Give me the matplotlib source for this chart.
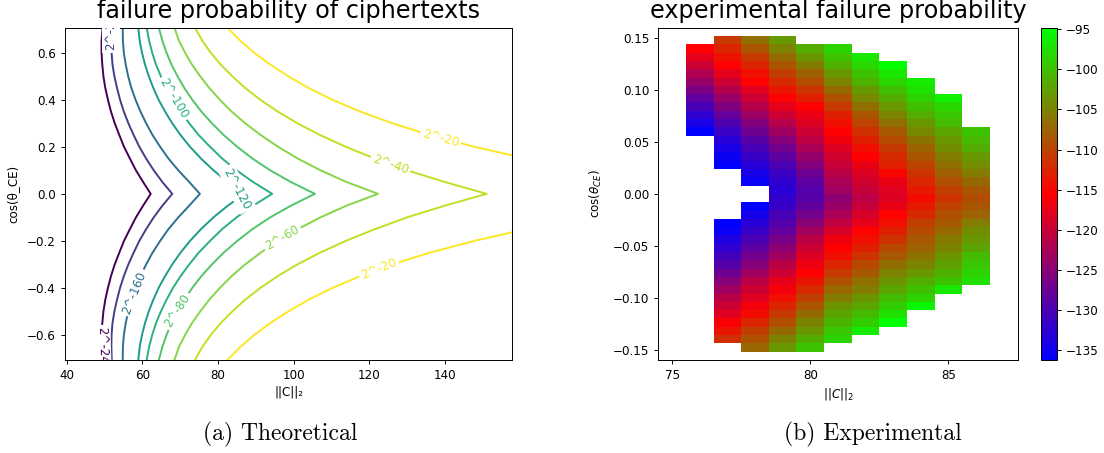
import matplotlib

matplotlib.use("Agg")

import matplotlib.pyplot as plt
import numpy as np
from matplotlib.colors import Normalize
from matplotlib.ticker import MultipleLocator


OUTPUT_PATH = "out.png"

# Theoretical plot: ||C||_2 where each contour crosses a given |cos(theta_CE)|.
# The curves are mirror images around cos = 0, so only the upper half is stored.
COS_SAMPLES = [0.0, 0.05, 0.1, 0.15, 0.2, 0.25, 0.3, 0.35, 0.4, 0.45, 0.5,
               0.55, 0.6, 0.65, 0.71]
LEVEL_EXPONENTS = [-240, -200, -160, -120, -100, -80, -60, -40, -20]
NORM_2_240 = [62.2, 60.2, 58.3, 56.7, 55.15, 53.9, 52.7, 51.7, 50.9, 50.2,
              49.7, 49.4, 49.2, 49.2, 49.5]
NORM_2_200 = [67.9, 65.3, 63.0, 61.0, 59.2, 57.7, 56.3, 55.1, 54.1, 53.3,
              52.6, 52.1, 51.85, 51.8, 51.9]
NORM_2_160 = [75.2, 72.4, 69.5, 66.9, 64.7, 62.7, 61.0, 59.5, 58.2, 57.1,
              56.25, 55.6, 55.1, 54.85, 54.8]
NORM_2_120 = [87.0, 82.6, 78.8, 75.5, 72.6, 70.1, 67.9, 66.0, 64.3, 62.9,
              61.7, 60.7, 59.9, 59.3, 58.9]
NORM_2_100 = [94.3, 89.3, 84.9, 81.1, 77.9, 74.9, 72.4, 70.1, 68.1, 66.4,
              64.9, 63.6, 62.6, 61.8, 61.1]
NORM_2_80 = [105.6, 99.3, 93.8, 89.1, 85.1, 81.5, 78.4, 75.6, 73.2, 71.1,
             69.3, 67.7, 66.4, 65.3, 64.3]
NORM_2_60 = [122.3, 114.0, 107.1, 101.1, 95.9, 91.3, 87.2, 83.6, 80.5, 77.7,
             75.3, 73.1, 71.3, 69.7, 68.4]
NORM_2_40 = [151.0, 140.0, 130.0, 121.5, 113.8, 107.0, 101.0, 95.8, 91.2,
             87.2, 83.8, 80.7, 78.1, 75.9, 73.8]
NORM_2_20 = [228.7, 199.8, 178.5, 161.5, 147.8, 136.0, 126.1, 117.6, 110.3,
             104.0, 98.6, 93.8, 89.6, 86.0, 82.3]
CONTOUR_NORMS = [
    NORM_2_240, NORM_2_200, NORM_2_160, NORM_2_120, NORM_2_100,
    NORM_2_80, NORM_2_60, NORM_2_40, NORM_2_20,
]

# Inline contour labels (level, position, rotation).
LABEL_LEVELS = [-20, -20, -40, -60, -80, -100, -120, -160, -200, -240]
LABEL_NORMS = [138.8, 122.5, 125.6, 97.0, 69.3, 68.3, 85.0, 57.9, 51.7, 49.35]
LABEL_COS = [0.236, -0.32, 0.126, -0.188, -0.498, 0.405, 0.022, -0.42, 0.705, -0.663]
LABEL_ROTATIONS = [-15, 22, -19, 30, 57, -59, -62, 68, 90, -88]

# Experimental plot: log2 failure probability per (||C||_2, cos) bin.
NORM_BINS = [75, 76, 77, 78, 79, 80, 81, 82, 83, 84, 85, 86, 87]
COS_TOP = 0.16
COS_STEP = 0.008
COS_ROWS = 40
COLUMN_NORMS = [76, 77, 78, 79, 80, 81, 82, 83, 84, 85, 86]
COLUMN_START_ROW = [2, 1, 1, 1, 2, 2, 3, 4, 6, 8, 12]

COL_76 = [-115.5, -117.6, -119.7, -121.9, -124.0, -126.1, -128.4, -130.4,
          -132.5, -134.2, -136.25]
COL_77 = [-110.9, -112.6, -114.1, -115.5, -117.6, -119.7, -121.7, -123.8,
          -125.9, -128.0, -129.8, -131.5, -132.9, -134.2, -135.2, -136.25,
          None, None, None, None, None, None,
          -136.25, -135.4, -133.8, -132.5, -130.9, -129.4, -127.3, -125.3,
          -123.2, -121.1, -119.7, -118.0, -115.9, -113.9, -111.8]
COL_78 = [-106.6, -108.7, -110.9, -112.6, -114.3, -115.5, -118.0, -119.7,
          -121.5, -123.6, -125.7, -127.3, -129.0, -130.4, -131.7, -132.9,
          -134.2, -135.4,
          None, None,
          -136.25, -134.6, -132.9, -131.7, -130.0, -128.6, -126.9, -125.3,
          -123.2, -121.1, -119.7, -118.0, -116.4, -114.7, -112.6, -110.5,
          -108.9, -107.2]
COL_79 = [-103.1, -104.95, -106.8, -108.7, -110.5, -112.2, -113.9, -115.5,
          -117.6, -119.7, -121.5, -123.4, -125.3, -126.9, -128.6, -130.0,
          -131.3, -132.3, -132.9,
          -132.1, -131.7, -130.4, -129.4, -128.2, -126.5, -124.8, -123.2,
          -121.1, -119.7, -117.6, -116.4, -114.3, -112.6, -110.9, -109.1,
          -107.0, -104.95, -103.3]
COL_80 = [-101.6, -103.3, -105.4, -107.7, -109.3, -111.4, -113.0, -115.5,
          -117.2, -118.4, -119.7, -120.9, -122.4, -124.0, -125.7, -127.3,
          -128.6, -129.4,
          -129.2, -128.2, -126.9, -125.0, -123.0, -121.1, -119.7, -118.4,
          -116.9, -115.5, -113.9, -112.2, -110.5, -108.7, -106.8, -104.95,
          -103.3, -101.6, -99.8]
COL_81 = [-98.5, -99.8, -101.2, -103.3, -104.95, -107.0, -109.1, -110.9,
          -113.0, -114.3, -115.5, -116.8, -118.0, -119.3, -120.1, -121.1,
          -122.4, -123.2,
          -124.6, -123.8, -122.4, -120.7, -118.8, -116.8, -115.5, -114.3,
          -112.6, -110.9, -109.1, -107.2, -105.4, -103.7, -102.1, -100.8,
          -99.4, -98.5]
COL_82 = [-96.9, -98.1, -99.8, -101.2, -103.1, -104.5, -106.6, -108.7,
          -110.1, -111.8, -113.0, -114.3, -115.5, -117.2, -118.4, -119.3,
          -120.1,
          -120.9, -120.1, -118.8, -117.6, -115.5, -114.3, -113.0, -111.4,
          -109.7, -108.3, -106.6, -105.4, -103.7, -102.1, -100.4, -98.9,
          -96.5]
COL_83 = [-94.8, -96.9, -98.3, -100.0, -101.6, -103.3, -104.95, -106.6,
          -108.3, -109.5, -110.9, -112.2, -113.0, -115.1, -117.2, -118.0,
          -118.4, -117.2, -115.5, -114.3, -113.0, -111.4, -109.7, -108.3,
          -106.6, -104.95, -103.7, -102.1, -100.4, -98.9, -97.3, -94.8]
COL_84 = [-96.5, -97.3, -98.5, -100.0, -101.6, -103.3, -104.5, -106.2,
          -107.5, -108.7, -110.1, -111.4, -112.6, -113.5,
          -114.7, -113.5, -112.2, -110.5, -109.5, -108.3, -107.5, -106.2,
          -104.95, -103.3, -101.6, -100.0, -98.5, -95.6]
COL_85 = [-96.0, -98.1, -99.4, -100.4, -102.1, -103.3, -104.1, -105.4,
          -106.6, -107.9, -109.1, -110.5,
          -111.4, -110.3, -109.1, -108.3, -107.0, -105.8, -104.95, -103.7,
          -102.5, -101.2, -99.8, -96.9]
COL_86 = [-99.8, -100.6, -101.6, -103.3, -104.1, -105.4, -107.0, -108.7,
          -109.3, -108.7, -107.5, -105.4, -104.1, -103.3, -102.1, -100.4,
          -99.4, -98.5, -97.7]
COLUMN_VALUES = [COL_76, COL_77, COL_78, COL_79, COL_80, COL_81, COL_82,
                 COL_83, COL_84, COL_85, COL_86]
CBAR_TICKS = [-135, -130, -125, -120, -115, -110, -105, -100, -95]

FONT_SIZE = 8.6
TITLE_SIZE = 17.2


def style_axis(axis):
    """Common tick and spine settings for both panels."""
    axis.tick_params(labelsize=FONT_SIZE, length=3, width=0.7)
    for spine in axis.spines.values():
        spine.set_linewidth(0.7)


def draw_theoretical(axis):
    """Contour lines of the theoretical failure probability."""
    cmap = plt.get_cmap("viridis")
    norm = Normalize(min(LEVEL_EXPONENTS), max(LEVEL_EXPONENTS))
    cos_values = np.array(COS_SAMPLES)
    y_values = np.concatenate([-cos_values[::-1], cos_values[1:]])

    for exponent, norms in zip(LEVEL_EXPONENTS, CONTOUR_NORMS):
        norms = np.array(norms)
        x_values = np.concatenate([norms[::-1], norms[1:]])
        axis.plot(x_values, y_values, color=cmap(norm(exponent)),
                  linewidth=1.4)

    for level, x, y, rotation in zip(LABEL_LEVELS, LABEL_NORMS, LABEL_COS,
                                     LABEL_ROTATIONS):
        axis.text(
            x, y, f"2^{level}",
            color=cmap(norm(level)),
            fontsize=FONT_SIZE,
            rotation=rotation,
            rotation_mode="anchor",
            ha="center",
            va="center",
            clip_on=True,
            bbox=dict(boxstyle="square,pad=0.2", facecolor="white",
                      edgecolor="none"),
        )

    axis.set_xlim(39.55, 157.8)
    axis.set_ylim(-0.7071, 0.7071)
    axis.xaxis.set_major_locator(MultipleLocator(20))
    axis.yaxis.set_major_locator(MultipleLocator(0.2))
    axis.set_title("failure probability of ciphertexts", fontsize=TITLE_SIZE,
                   pad=6.8)
    axis.set_xlabel("||C||\u2082", fontsize=FONT_SIZE)
    axis.set_ylabel("cos(\u03b8_CE)", fontsize=FONT_SIZE)
    axis.xaxis.set_label_coords(0.5, -0.078)
    axis.yaxis.set_label_coords(-0.103, 0.5)
    style_axis(axis)


def build_grid():
    """Puts the measured columns into the full (cos, norm) grid."""
    grid = np.full((COS_ROWS, len(NORM_BINS)), np.nan)
    for norm_value, start, values in zip(COLUMN_NORMS, COLUMN_START_ROW,
                                         COLUMN_VALUES):
        column = NORM_BINS.index(norm_value)
        cells = [np.nan if value is None else value for value in values]
        grid[start:start + len(cells), column] = cells
    return np.ma.masked_invalid(grid)


def draw_experimental(fig, axis, cbar_axis):
    """Binned experimental failure probability with colorbar."""
    norm_edges = np.append(np.array(NORM_BINS) - 0.5, NORM_BINS[-1] + 0.5)
    cos_edges = COS_TOP - COS_STEP * np.arange(COS_ROWS + 1)

    mesh = axis.pcolormesh(norm_edges, cos_edges, build_grid(), cmap="brg",
                           shading="flat")
    axis.set_xlim(norm_edges[0], norm_edges[-1])
    axis.set_ylim(-COS_TOP, COS_TOP)
    axis.xaxis.set_major_locator(MultipleLocator(5))
    axis.yaxis.set_major_locator(MultipleLocator(0.05))
    axis.set_title("experimental failure probability", fontsize=TITLE_SIZE,
                   pad=6.8)
    axis.set_xlabel(r"$||C||_2$", fontsize=FONT_SIZE)
    axis.set_ylabel(r"$\cos(\theta_{CE})$", fontsize=FONT_SIZE)
    axis.xaxis.set_label_coords(0.5, -0.078)
    axis.yaxis.set_label_coords(-0.151, 0.5)
    style_axis(axis)

    cbar = fig.colorbar(mesh, cax=cbar_axis)
    cbar.set_ticks(CBAR_TICKS)
    cbar.ax.tick_params(labelsize=FONT_SIZE, length=3, width=0.7)
    cbar.outline.set_linewidth(0.7)


def main():
    fig = plt.figure(figsize=(11.04, 4.53), dpi=100)

    left_axis = fig.add_axes([0.0589, 0.2053, 0.4052, 0.7336])
    right_axis = fig.add_axes([0.5963, 0.2053, 0.3254, 0.7336])
    cbar_axis = fig.add_axes([0.9425, 0.2053, 0.0149, 0.7336])

    draw_theoretical(left_axis)
    draw_experimental(fig, right_axis, cbar_axis)

    # Sub-figure captions, as in the paper.
    fig.text(0.2536, 0.0287, "(a) Theoretical", family="cmr10", fontsize=17,
             ha="center", va="baseline")
    fig.text(0.7908, 0.0287, "(b) Experimental", family="cmr10", fontsize=17,
             ha="center", va="baseline")

    fig.savefig(OUTPUT_PATH, dpi=100)
    plt.close(fig)


if __name__ == "__main__":
    main()
